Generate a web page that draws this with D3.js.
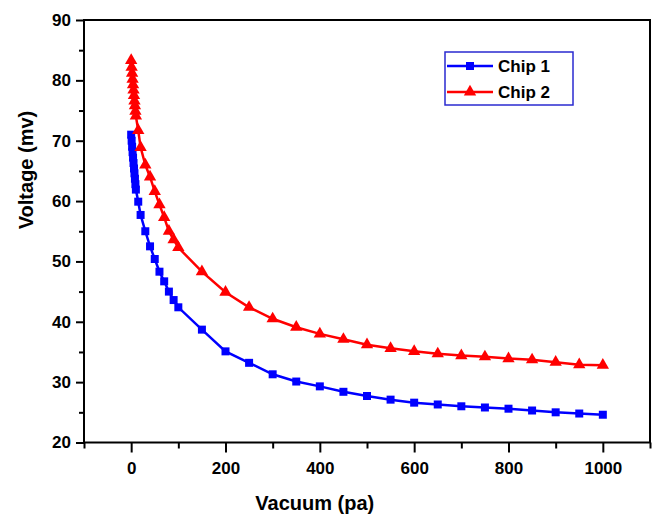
<!DOCTYPE html>
<html>
<head>
<meta charset="utf-8">
<script src="https://cdn.jsdelivr.net/npm/d3@7"></script>
<style>
  body { margin: 0; background: #fff; }
  text { font-family: "Liberation Sans", Arial, sans-serif; font-weight: bold; }
</style>
</head>
<body>
<div id="chart"></div>
<script>
// vacuum (pa) readings, shared by both chips
const vacuum = [0, 1, 2, 3, 4, 5, 6, 7, 8, 9, 10, 15, 20, 30, 40, 50, 60, 70, 80, 90, 100,
  150, 200, 250, 300, 350, 400, 450, 500, 550, 600, 650, 700, 750, 800, 850, 900, 950, 1000];

const chip1 = [71.0, 70.0, 69.0, 68.1, 67.2, 66.3, 65.4, 64.6, 63.7, 62.8, 61.9,
  59.9, 57.7, 55.0, 52.5, 50.4, 48.3, 46.7, 45.0, 43.6, 42.4,
  38.7, 35.1, 33.2, 31.3, 30.1, 29.3, 28.4, 27.7, 27.1, 26.6, 26.3, 26.0, 25.8, 25.6, 25.3, 25.0, 24.8, 24.6];

const chip2 = [83.3, 82.2, 81.2, 80.2, 79.3, 78.4, 77.5, 76.6, 75.8, 74.9, 74.1,
  71.7, 68.9, 66.0, 64.0, 61.6, 59.4, 57.3, 55.0, 53.6, 52.3,
  48.3, 44.9, 42.4, 40.5, 39.1, 38.0, 37.1, 36.2, 35.6, 35.1, 34.7, 34.4, 34.2, 33.9, 33.7, 33.3, 32.9, 32.8];

const seriesNames = ["Chip 1", "Chip 2"];
const xTicks = [0, 200, 400, 600, 800, 1000];
const xMinor = [-100, 100, 300, 500, 700, 900, 1100];
const yTicks = [20, 30, 40, 50, 60, 70, 80, 90];
const yMinor = [25, 35, 45, 55, 65, 75, 85];

const width = 656;
const height = 514;
const margin = { top: 20, right: 6, bottom: 71.5, left: 84 };

const svg = d3.select("#chart")
  .append("svg")
  .attr("width", width)
  .attr("height", height);

const x = d3.scaleLinear()
  .domain([-100, 1100])
  .range([margin.left, width - margin.right]);

const y = d3.scaleLinear()
  .domain([20, 90])
  .range([height - margin.bottom, margin.top]);

// axes (ticks outward on bottom and left only)
function xAxis(g) {
  g.attr("transform", `translate(0,${height - margin.bottom})`)
    .call(d3.axisBottom(x).tickValues(xTicks).tickFormat(d3.format("d")).tickSize(10).tickPadding(9))
    .attr("font-size", "17px");
  g.select(".domain").remove();
  g.selectAll("line").attr("stroke-width", 2);
  g.selectAll("text").attr("font-family", "Liberation Sans, Arial").attr("font-weight", "bold");
}
function xAxisMinor(g) {
  g.attr("transform", `translate(0,${height - margin.bottom})`)
    .call(d3.axisBottom(x).tickValues(xMinor).tickSize(6).tickFormat(""));
  g.select(".domain").remove();
  g.selectAll("line").attr("stroke-width", 2);
}
function yAxis(g) {
  g.attr("transform", `translate(${margin.left},0)`)
    .call(d3.axisLeft(y).tickValues(yTicks).tickSize(8).tickPadding(5))
    .attr("font-size", "17px");
  g.select(".domain").remove();
  g.selectAll("line").attr("stroke-width", 2);
  g.selectAll("text").attr("font-family", "Liberation Sans, Arial").attr("font-weight", "bold");
}
function yAxisMinor(g) {
  g.attr("transform", `translate(${margin.left},0)`)
    .call(d3.axisLeft(y).tickValues(yMinor).tickSize(5).tickFormat(""));
  g.select(".domain").remove();
  g.selectAll("line").attr("stroke-width", 2);
}

svg.append("g").call(xAxis);
svg.append("g").call(xAxisMinor);
svg.append("g").call(yAxis);
svg.append("g").call(yAxisMinor);

// frame
svg.append("rect")
  .attr("x", x(-100))
  .attr("y", y(90))
  .attr("width", x(1100) - x(-100))
  .attr("height", y(20) - y(90))
  .attr("fill", "none")
  .attr("stroke", "#000")
  .attr("stroke-width", 2);

const series = [
  { name: seriesNames[0], values: chip1, color: "#0000ff", symbol: d3.symbolSquare, size: 64 },
  { name: seriesNames[1], values: chip2, color: "#ff0000", symbol: d3.symbolTriangle, size: 66 }
];

const line = d3.line()
  .x((d, i) => x(vacuum[i]))
  .y(d => y(d));

series.forEach(s => {
  svg.append("path")
    .datum(s.values)
    .attr("fill", "none")
    .attr("stroke", s.color)
    .attr("stroke-width", 2.5)
    .attr("d", line);

  svg.append("g")
    .selectAll("path")
    .data(s.values)
    .join("path")
      .attr("transform", (d, i) => `translate(${x(vacuum[i])},${y(d)})`)
      .attr("d", d3.symbol().type(s.symbol).size(s.size))
      .attr("fill", s.color);
});

// legend
const legend = svg.append("g").attr("transform", "translate(445,52)");
legend.append("rect")
  .attr("width", 128)
  .attr("height", 53)
  .attr("fill", "#fff")
  .attr("stroke", "#2a2ad0")
  .attr("stroke-width", 1.5);

series.forEach((s, i) => {
  const row = legend.append("g").attr("transform", `translate(0,${14 + i * 26})`);
  row.append("line")
    .attr("x1", 2).attr("x2", 48)
    .attr("stroke", s.color)
    .attr("stroke-width", 2.5);
  row.append("path")
    .attr("transform", "translate(25,0)")
    .attr("d", d3.symbol().type(s.symbol).size(s.size))
    .attr("fill", s.color);
  row.append("text")
    .attr("x", 53)
    .attr("y", 6)
    .attr("font-size", "17px")
    .text(s.name);
});

// axis titles
svg.append("text")
  .attr("x", x(400) - 5)
  .attr("y", 510)
  .attr("text-anchor", "middle")
  .attr("font-size", "20px")
  .text("Vacuum (pa)");

svg.append("text")
  .attr("transform", "translate(33,170) rotate(-90)")
  .attr("text-anchor", "middle")
  .attr("font-size", "20px")
  .text("Voltage (mv)");
</script>
</body>
</html>
